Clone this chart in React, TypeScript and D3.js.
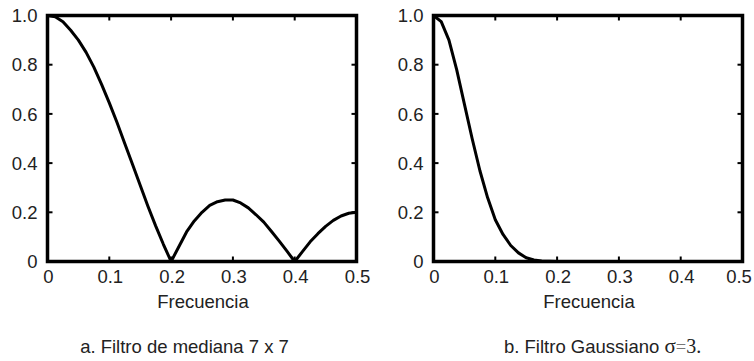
import React, { useEffect, useRef } from 'react'
import * as d3 from 'd3'

// ejes
const freqTicks = [0, 0.1, 0.2, 0.3, 0.4, 0.5]
const freqLabels = ['0', '0.1', '0.2', '0.3', '0.4', '0.5']
const ampTicks = [0, 0.2, 0.4, 0.6, 0.8, 1.0]
const ampLabels = ['0', '0.2', '0.4', '0.6', '0.8', '1.0']

// a. filtro de mediana 7 x 7
const medianFreq = [
  0, 0.0125, 0.025, 0.0375, 0.05, 0.0625, 0.075, 0.0875, 0.1, 0.1125,
  0.125, 0.1375, 0.15, 0.1625, 0.175, 0.1875, 0.2, 0.2125, 0.225, 0.2375,
  0.25, 0.2625, 0.275, 0.2875, 0.3, 0.3125, 0.325, 0.3375, 0.35, 0.3625,
  0.375, 0.3875, 0.4, 0.4125, 0.425, 0.4375, 0.45, 0.4625, 0.475, 0.4875, 0.5,
]
const medianResp = [
  1.0, 0.995, 0.975, 0.94, 0.9, 0.85, 0.79, 0.72, 0.645, 0.565,
  0.48, 0.395, 0.31, 0.225, 0.145, 0.07, 0.0, 0.06, 0.12, 0.165,
  0.2, 0.228, 0.243, 0.25, 0.25, 0.238, 0.218, 0.19, 0.16, 0.122,
  0.083, 0.042, 0.0, 0.04, 0.08, 0.113, 0.143, 0.167, 0.185, 0.196, 0.2,
]

// b. filtro gaussiano sigma = 3
const gaussFreq = [
  0, 0.0125, 0.025, 0.0375, 0.05, 0.0625, 0.075, 0.0875, 0.1, 0.1125,
  0.125, 0.1375, 0.15, 0.1625, 0.175, 0.1875, 0.2,
]
const gaussResp = [
  1.0, 0.975, 0.9, 0.78, 0.64, 0.5, 0.37, 0.26, 0.17, 0.11,
  0.065, 0.035, 0.015, 0.006, 0.002, 0.001, 0.0,
]

const width = 754,
      height = 361,
      plotW = 309,
      top = 15.5,
      bottom = 261.5,
      fontSize = 18.5,
      font = '"Liberation Sans", Arial, sans-serif'

const panels = [
  { left: 47.5, freq: medianFreq, resp: medianResp },
  { left: 433.5, freq: gaussFreq, resp: gaussResp },
]

const App = () => {
  const ref = useRef<SVGSVGElement>(null)

  useEffect(() => {
    const svg = d3.select(ref.current)
    svg.selectAll('*').remove()

    panels.forEach(p => {
      const x = d3.scaleLinear().domain([0, 0.5]).range([p.left, p.left + plotW])
      const y = d3.scaleLinear().domain([0, 1]).range([bottom, top])
      const g = svg.append('g')

      // curva
      const line = d3.line<number>()
        .x((d, i) => x(p.freq[i]))
        .y(d => y(d))
      g.append('path')
        .attr('d', line(p.resp))
        .attr('fill', 'none')
        .attr('stroke', '#000')
        .attr('stroke-width', 3)
        .attr('stroke-linejoin', 'round')

      // marcas hacia dentro en los cuatro lados
      freqTicks.forEach(t => {
        g.append('line').attr('x1', x(t)).attr('x2', x(t)).attr('y1', bottom).attr('y2', bottom - 5)
          .attr('stroke', '#000').attr('stroke-width', 2)
        g.append('line').attr('x1', x(t)).attr('x2', x(t)).attr('y1', top).attr('y2', top + 5)
          .attr('stroke', '#000').attr('stroke-width', 2)
      })
      ampTicks.forEach(t => {
        g.append('line').attr('x1', p.left).attr('x2', p.left + 5).attr('y1', y(t)).attr('y2', y(t))
          .attr('stroke', '#000').attr('stroke-width', 2)
        g.append('line').attr('x1', p.left + plotW).attr('x2', p.left + plotW - 5).attr('y1', y(t)).attr('y2', y(t))
          .attr('stroke', '#000').attr('stroke-width', 2)
      })

      // caja
      g.append('rect')
        .attr('x', p.left).attr('y', top)
        .attr('width', plotW).attr('height', bottom - top)
        .attr('fill', 'none').attr('stroke', '#000').attr('stroke-width', 3.5)

      // etiquetas
      g.selectAll('.xl').data(freqTicks).enter()
        .append('text')
        .attr('x', d => Math.min(x(d) + 1, width - 15))
        .attr('y', 283)
        .attr('text-anchor', 'middle')
        .text((d, i) => freqLabels[i])
      g.selectAll('.yl').data(ampTicks).enter()
        .append('text')
        .attr('x', p.left - 10)
        .attr('y', d => y(d))
        .attr('dy', '0.36em')
        .attr('text-anchor', 'end')
        .text((d, i) => ampLabels[i])
      g.append('text')
        .attr('x', p.left + plotW / 2 + 1)
        .attr('y', 308)
        .attr('text-anchor', 'middle')
        .text('Frecuencia')

      g.selectAll('text')
        .attr('font-family', font)
        .attr('font-size', fontSize)
        .attr('fill', '#222')
    })

    // pies de figura
    svg.append('text')
      .attr('x', 184.5).attr('y', 353)
      .attr('text-anchor', 'middle')
      .attr('font-family', font).attr('font-size', fontSize).attr('fill', '#222')
      .text('a. Filtro de mediana 7 x 7')

    const cap = svg.append('text')
      .attr('x', 504).attr('y', 353)
      .attr('font-family', font).attr('font-size', fontSize).attr('fill', '#222')
    cap.append('tspan').text('b. Filtro Gaussiano ')
    cap.append('tspan').attr('font-family', '"Liberation Serif", serif').attr('font-size', 21).text('σ')
    cap.append('tspan').attr('font-family', '"Liberation Serif", serif').attr('fill', '#777').text('=')
    cap.append('tspan').attr('font-family', '"Liberation Serif", serif').attr('font-size', 20).text('3.')
  }, [])

  return (
    <svg ref={ref} width={width} height={height}
         style={{ position: 'absolute', left: 0, top: 0, background: '#fff' }} />
  )
}

export default App
